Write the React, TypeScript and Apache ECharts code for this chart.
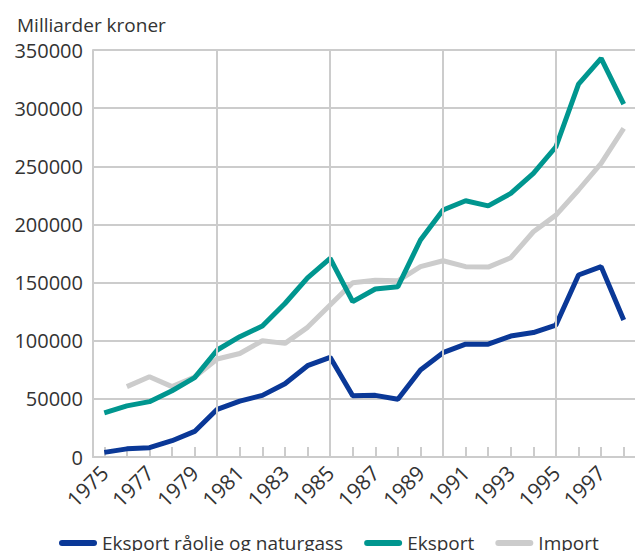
import React, { useEffect, useRef } from "react";
import * as echarts from "echarts";

const years = ["1975","1976","1977","1978","1979","1980","1981","1982","1983","1984","1985","1986","1987","1988","1989","1990","1991","1992","1993","1994","1995","1996","1997","1998"];
const eksportOljeGass = [4000, 7000, 8000, 14000, 22000, 41000, 48000, 53000, 63000, 78500, 85700, 52700, 53000, 49600, 74800, 89700, 97000, 97000, 104000, 107000, 113500, 156500, 163700, 117800];
const eksport = [38000, 44000, 47600, 57000, 68200, 92000, 103500, 112600, 132000, 154000, 170800, 133600, 144500, 146500, 186600, 212400, 220400, 216000, 226700, 244000, 266800, 320700, 342800, 303500];
const importData = [null, 60500, 69000, 60500, 68800, 84300, 89000, 100000, 97700, 111500, 130700, 149900, 152000, 151500, 163700, 168800, 163700, 163300, 171400, 193700, 208000, 229600, 252500, 282600];
const gridYears = ["1980", "1985", "1990", "1995"];
const seriesNames = ["Eksport råolje og naturgass", "Eksport", "Import"];
const colors = ["#0a3897", "#00968f", "#cccccc"];
const yTitle = "Milliarder kroner";

const FONT = "'Open Sans', sans-serif";
const TEXT = "#333333";
const GRID = "#cccccc";
const ICON = "path://M3,0 L35,0 A3,3 0 0 1 35,6 L3,6 A3,3 0 0 1 3,0 Z";

export default function App() {
  const ref = useRef<HTMLDivElement>(null);
  useEffect(() => {
    if (!ref.current) return;
    const chart = echarts.init(ref.current, null, { renderer: "svg" });
    const lineSeries = (name: string, data: (number | null)[], color: string, z: number) => ({
      name,
      type: "line",
      data,
      symbol: "none",
      z,
      lineStyle: { color, width: 5 },
      itemStyle: { color },
    });
    chart.setOption({
      animation: false,
      textStyle: { fontFamily: FONT },
      title: {
        text: yTitle,
        left: 12,
        top: 10,
        textStyle: { fontFamily: FONT, fontSize: 19, fontWeight: "normal", color: TEXT },
      },
      grid: { left: 93, right: -2, top: 50, bottom: 94, containLabel: false },
      legend: {
        data: seriesNames,
        left: 54,
        top: 527,
        itemWidth: 38,
        itemHeight: 6,
        itemGap: 21,
        icon: ICON,
        textStyle: { fontFamily: FONT, fontSize: 19, color: TEXT, lineHeight: 22, padding: [0, 0, 0, 0] },
      },
      xAxis: {
        type: "category",
        data: years,
        boundaryGap: true,
        axisLine: { lineStyle: { color: GRID, width: 2 } },
        axisTick: { show: true, inside: true, length: 10, alignWithLabel: true, interval: 0, lineStyle: { color: GRID, width: 2 } },
        axisLabel: { interval: 1, rotate: 45, fontFamily: FONT, fontSize: 21, color: TEXT, margin: 12 },
        splitLine: { show: false },
      },
      yAxis: {
        type: "value",
        min: 0,
        max: 350000,
        interval: 50000,
        axisLine: { show: true, lineStyle: { color: GRID, width: 2 } },
        axisTick: { show: false },
        axisLabel: {
          fontFamily: FONT,
          fontSize: 20,
          color: TEXT,
          margin: 10,
          padding: [6, 0, 0, 0],
          formatter: (v: number) => String(v),
        },
        splitLine: { lineStyle: { color: GRID, width: 2 } },
      },
      series: [
        {
          type: "line",
          data: [],
          z: 1,
          silent: true,
          markLine: {
            silent: true,
            symbol: "none",
            label: { show: false },
            lineStyle: { color: GRID, width: 2, type: "solid" },
            data: gridYears.map((y) => ({ xAxis: y })),
          },
        },
        lineSeries(seriesNames[2], importData, colors[2], 2),
        lineSeries(seriesNames[1], eksport, colors[1], 3),
        lineSeries(seriesNames[0], eksportOljeGass, colors[0], 4),
      ],
    });
    return () => chart.dispose();
  }, []);
  return (
    <div
      ref={ref}
      style={{ position: "fixed", left: 0, top: 0, width: 635, height: 551, background: "#fff" }}
    />
  );
}
